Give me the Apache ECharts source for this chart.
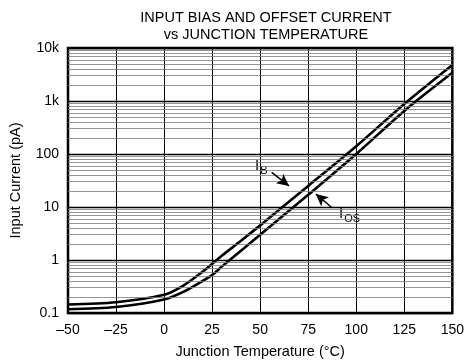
<!DOCTYPE html>
<html>
<head>
<meta charset="utf-8">
<script src="https://cdn.jsdelivr.net/npm/echarts@6/dist/echarts.min.js"></script>
<style>
  html, body { margin: 0; padding: 0; background: #fff; }
  #chart { width: 467px; height: 364px; }
</style>
</head>
<body>
<div id="chart"></div>
<script>
// junction temperature (degC) and currents (pA)
var tempIB = [-50, -25, 0, 10, 20, 30, 40, 50, 60, 75, 100, 125, 150];
var ib = [0.145, 0.16, 0.22, 0.33, 0.6, 1.2, 2.3, 4.5, 9, 25, 140, 880, 4800];
var tempIOS = [-50, -25, 0, 10, 20, 25, 30, 40, 50, 60, 75, 100, 125, 150];
var ios = [0.118, 0.13, 0.18, 0.25, 0.4, 0.52, 0.75, 1.5, 3, 6, 17, 100, 650, 3400];

var decades = [0.1, 1, 10, 100, 1000];
var minorSteps = [2, 3, 4, 5, 6, 7, 8, 9];

// arrows pointing at each curve, [tail, head] in data units
var ibArrow = [[56, 45], [65, 25]];
var iosArrow = [[87, 10], [79, 17.5]];

function zip(xs, ys) {
  return xs.map(function (x, i) { return [x, ys[i]]; });
}

var minorLines = [];
decades.forEach(function (d) {
  minorSteps.forEach(function (s) {
    minorLines.push({ yAxis: +(d * s).toPrecision(3) });
  });
});

var font = 'Liberation Sans';
var myChart = echarts.init(document.getElementById('chart'));

var option = {
  animation: false,
  textStyle: { fontFamily: font },
  title: {
    text: 'INPUT BIAS AND OFFSET CURRENT\nvs JUNCTION TEMPERATURE',
    left: 261,
    textAlign: 'center',
    top: 4,
    textStyle: { fontSize: 14.5, fontWeight: 'normal', color: '#000', lineHeight: 17, fontFamily: font }
  },
  grid: {
    left: 66, right: 12, top: 48, bottom: 49,
    show: true, borderColor: '#000', borderWidth: 2.5
  },
  xAxis: {
    type: 'value',
    min: -50, max: 150, interval: 25,
    name: 'Junction Temperature (°C)',
    nameLocation: 'middle',
    nameGap: 31,
    nameTextStyle: { fontSize: 14.5, color: '#000' },
    axisLine: { show: false },
    axisTick: { show: false },
    axisLabel: {
      fontSize: 14, color: '#000', margin: 10,
      formatter: function (v) { return v < 0 ? '\u2013' + (-v) : String(v); }
    },
    splitLine: { show: true, lineStyle: { color: '#000', width: 1 } }
  },
  yAxis: {
    type: 'log',
    logBase: 10,
    min: 0.1, max: 10000,
    name: 'Input Current (pA)',
    nameLocation: 'middle',
    nameGap: 45,
    nameTextStyle: { fontSize: 14.5, color: '#000' },
    axisLine: { show: false },
    axisTick: { show: false },
    axisLabel: {
      fontSize: 14, color: '#000', margin: 9,
      formatter: function (v) {
        if (v >= 1000) return (v / 1000) + 'k';
        return String(+v.toPrecision(3));
      }
    },
    splitLine: { show: true, lineStyle: { color: '#000', width: 1.3 } }
  },
  graphic: [
    {
      type: 'text', left: 255, top: 158,
      style: {
        text: '{a|I}{b|B}',
        rich: {
          a: { fontSize: 15, fill: '#000', fontFamily: font },
          b: { fontSize: 11, fill: '#000', fontFamily: font, padding: [11, 0, 0, 1] }
        }
      }
    },
    {
      type: 'text', left: 339, top: 206,
      style: {
        text: '{a|I}{b|OS}',
        rich: {
          a: { fontSize: 15, fill: '#000', fontFamily: font },
          b: { fontSize: 11, fill: '#000', fontFamily: font, padding: [11, 0, 0, 1] }
        }
      }
    }
  ],
  series: [
    {
      name: 'grid',
      type: 'line',
      data: [],
      silent: true,
      markLine: {
        silent: true,
        symbol: 'none',
        label: { show: false },
        lineStyle: { color: '#7a7a7a', width: 0.8, type: 'solid' },
        data: minorLines
      }
    },
    {
      name: 'IB',
      type: 'line',
      data: zip(tempIB, ib),
      smooth: 0.3,
      showSymbol: false,
      lineStyle: { color: '#000', width: 2.6 },
      markLine: {
        silent: true,
        symbol: ['none', 'arrow'],
        symbolSize: [9, 12],
        label: { show: false },
        lineStyle: { color: '#000', width: 1.5, type: 'solid' },
        data: [[{ coord: ibArrow[0] }, { coord: ibArrow[1] }]]
      }
    },
    {
      name: 'IOS',
      type: 'line',
      data: zip(tempIOS, ios),
      smooth: 0.3,
      showSymbol: false,
      lineStyle: { color: '#000', width: 2.6 },
      markLine: {
        silent: true,
        symbol: ['none', 'arrow'],
        symbolSize: [9, 12],
        label: { show: false },
        lineStyle: { color: '#000', width: 1.5, type: 'solid' },
        data: [[{ coord: iosArrow[0] }, { coord: iosArrow[1] }]]
      }
    }
  ]
};

myChart.setOption(option);
</script>
</body>
</html>
